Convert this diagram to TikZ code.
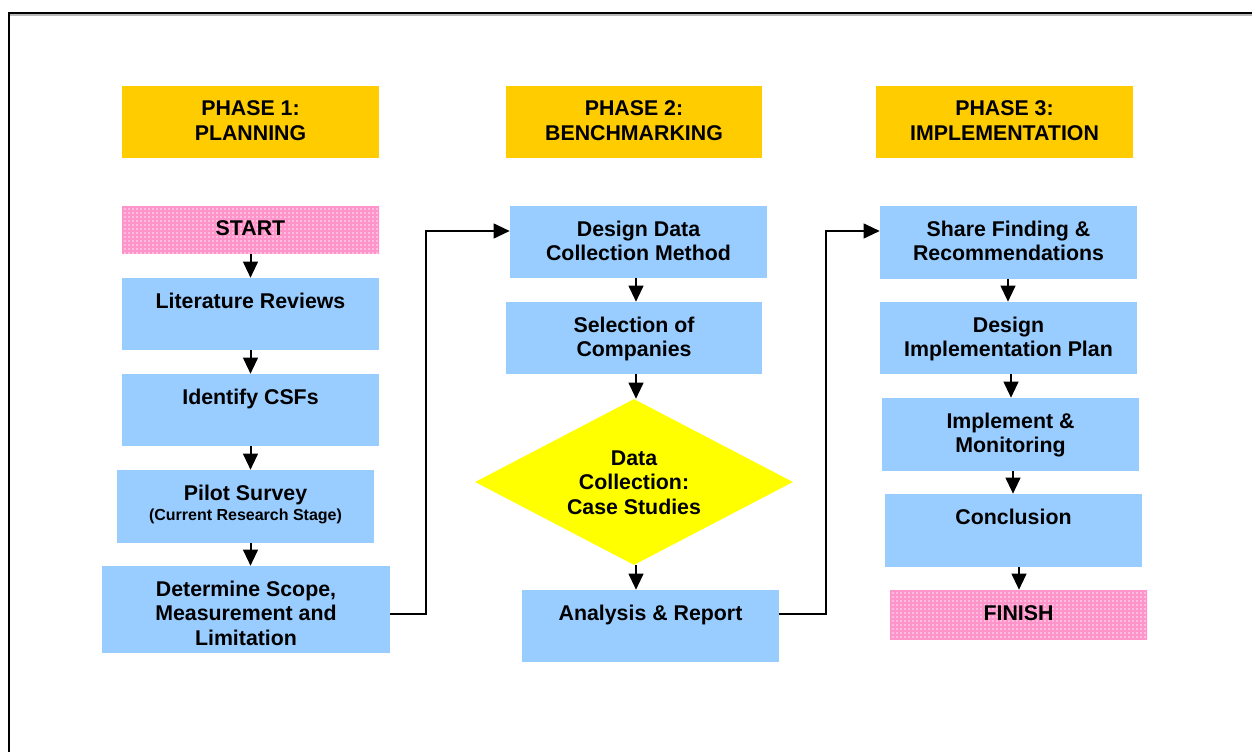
\documentclass[tikz,border=0pt]{standalone}
\usepackage{fontspec}
\setmainfont{Liberation Sans}
\usetikzlibrary{shapes.geometric,arrows.meta,fit}
\definecolor{phaseY}{HTML}{FFCC00}
\definecolor{boxB}{HTML}{99CCFF}
\definecolor{diaY}{HTML}{FFFF00}
\definecolor{pinkBase}{HTML}{FFBCDE}
\definecolor{pinkLine}{HTML}{FF94CA}
\begin{document}
\begin{tikzpicture}[x=0.75pt,y=-0.75pt,
  bluebox/.style={fill=boxB, inner sep=0pt, draw=none},
  phasebox/.style={fill=phaseY, inner sep=0pt, draw=none},
  pinkbox/.style={fill=pinkBase, inner sep=0pt, draw=none,
    path picture={
      \foreach \i in {1,5,...,300}{
        \draw[pinkLine, line width=0.9pt] ([xshift=\i*0.75pt]path picture bounding box.north west) -- ([xshift=\i*0.75pt]path picture bounding box.south west);}
      \foreach \j in {1,5,...,60}{
        \draw[pinkLine, line width=0.9pt] ([yshift=-\j*0.75pt]path picture bounding box.north west) -- ([yshift=-\j*0.75pt]path picture bounding box.north east);}
    }},
  txt/.style={font=\fontsize{16}{18.4}\selectfont\bfseries, align=center, inner sep=0pt, anchor=north},
  txtb/.style={font=\fontsize{16}{18.4}\selectfont\bfseries, inner sep=0pt, anchor=base},
  smalltxt/.style={font=\fontsize{12}{14}\selectfont\bfseries, inner sep=0pt, anchor=base},
  arr/.style={-{Triangle[length=12pt,width=11pt]}, line width=1.5pt, black}
]
\useasboundingbox (0,0) rectangle (1252,752);
% frame
\draw[gray!55, line width=0.9pt] (10,15) -- (1252,15);
\draw[black, line width=1.6pt] (9,752) -- (9,13) -- (1252,13);

% phase headers
\node[phasebox, fit={(122,86) (379,158)}] (p1) {};
\node[phasebox, fit={(506,86) (762,158)}] (p2) {};
\node[phasebox, fit={(876,86) (1133,158)}] (p3) {};
\node[txt] (p1t) at (250.5,100.6) {PHASE 1:\\PLANNING};
\node[txt] (p2t) at (634,100.6) {PHASE 2:\\BENCHMARKING};
\node[txt] (p3t) at (1004.5,100.6) {PHASE 3:\\IMPLEMENTATION};

% left column
\node[pinkbox, fit={(122,206) (379,254)}] (start) {};
\node[bluebox, fit={(122,278) (379,350)}] (lit) {};
\node[bluebox, fit={(122,374) (379,446)}] (csf) {};
\node[bluebox, fit={(117,470) (374,543)}] (pilot) {};
\node[bluebox, fit={(102,566) (390,653)}] (det) {};
\node[txtb] (startt) at (250.5,235.7) {START};
\node[txtb] (litt) at (250.5,308) {Literature Reviews};
\node[txtb] (csft) at (250.5,404) {Identify CSFs};
\node[txtb] (pilott) at (245.5,500) {Pilot Survey};
\node[smalltxt] (pilots) at (245.5,520.5) {(Current Research Stage)};
\node[txt] (dett) at (246,580.6) {Determine Scope,\\Measurement and\\Limitation};

% middle column
\node[bluebox, fit={(510,206) (767,278)}] (dd) {};
\node[bluebox, fit={(506,302) (762,374)}] (sel) {};
\node[diamond, fill=diaY, inner sep=0pt, minimum width=318*0.75pt, minimum height=166*0.75pt] (dc) at (634,482) {};
\node[bluebox, fit={(522,590) (779,662)}] (ana) {};
\node[txt] (ddt) at (638.5,220.6) {Design Data\\Collection Method};
\node[txt] (selt) at (634,316.6) {Selection of\\Companies};
\node[font=\fontsize{16}{18.4}\selectfont\bfseries, align=center, inner sep=0pt] (dct) at (634,482.5) {Data\\Collection:\\Case Studies};
\node[txtb] (anat) at (650.5,620.5) {Analysis \& Report};

% right column
\node[bluebox, fit={(880,206) (1137,279)}] (share) {};
\node[bluebox, fit={(880,302) (1137,374)}] (dip) {};
\node[bluebox, fit={(882,398) (1139,471)}] (impl) {};
\node[bluebox, fit={(885,494) (1142,567)}] (concl) {};
\node[pinkbox, fit={(890,590) (1147,639)}] (finish) {};
\node[txt] (sharet) at (1008.5,220.6) {Share Finding \&\\Recommendations};
\node[txt] (dipt) at (1008.5,316.6) {Design\\Implementation Plan};
\node[txt] (implt) at (1010.5,412.6) {Implement \&\\Monitoring};
\node[txtb] (conclt) at (1013.5,524.5) {Conclusion};
\node[txtb] (finisht) at (1018.5,620) {FINISH};

% arrow x positions
\coordinate (xl) at (250.5,0);
\coordinate (xm) at (636,0);
\coordinate (xr1) at (1008,0);
\coordinate (xr2) at (1011,0);
\coordinate (xr3) at (1013,0);
\coordinate (xr4) at (1019,0);

\draw[arr] (start.south -| xl) -- (lit.north -| xl);
\draw[arr] (lit.south -| xl) -- (csf.north -| xl);
\draw[arr] (csf.south -| xl) -- (pilot.north -| xl);
\draw[arr] (pilot.south -| xl) -- (det.north -| xl);

\draw[arr] (dd.south -| xm) -- (sel.north -| xm);
\draw[arr] (sel.south -| xm) -- (dc.north -| xm);
\draw[arr] (dc.south -| xm) -- (ana.north -| xm);

\draw[arr] (share.south -| xr1) -- (dip.north -| xr1);
\draw[arr] (dip.south -| xr2) -- (impl.north -| xr2);
\draw[arr] (impl.south -| xr3) -- (concl.north -| xr3);
\draw[arr] (concl.south -| xr4) -- (finish.north -| xr4);

% cross-phase connectors
\coordinate (j1b) at (426,614);
\coordinate (j1t) at (426,231);
\coordinate (j2b) at (826,614);
\coordinate (j2t) at (826,231);
\draw[arr, line join=miter] (det.east |- j1b) -- (j1b) -- (j1t) -- (dd.west |- j1t);
\draw[arr, line join=miter] (ana.east |- j2b) -- (j2b) -- (j2t) -- (share.west |- j2t);
\end{tikzpicture}
\end{document}
